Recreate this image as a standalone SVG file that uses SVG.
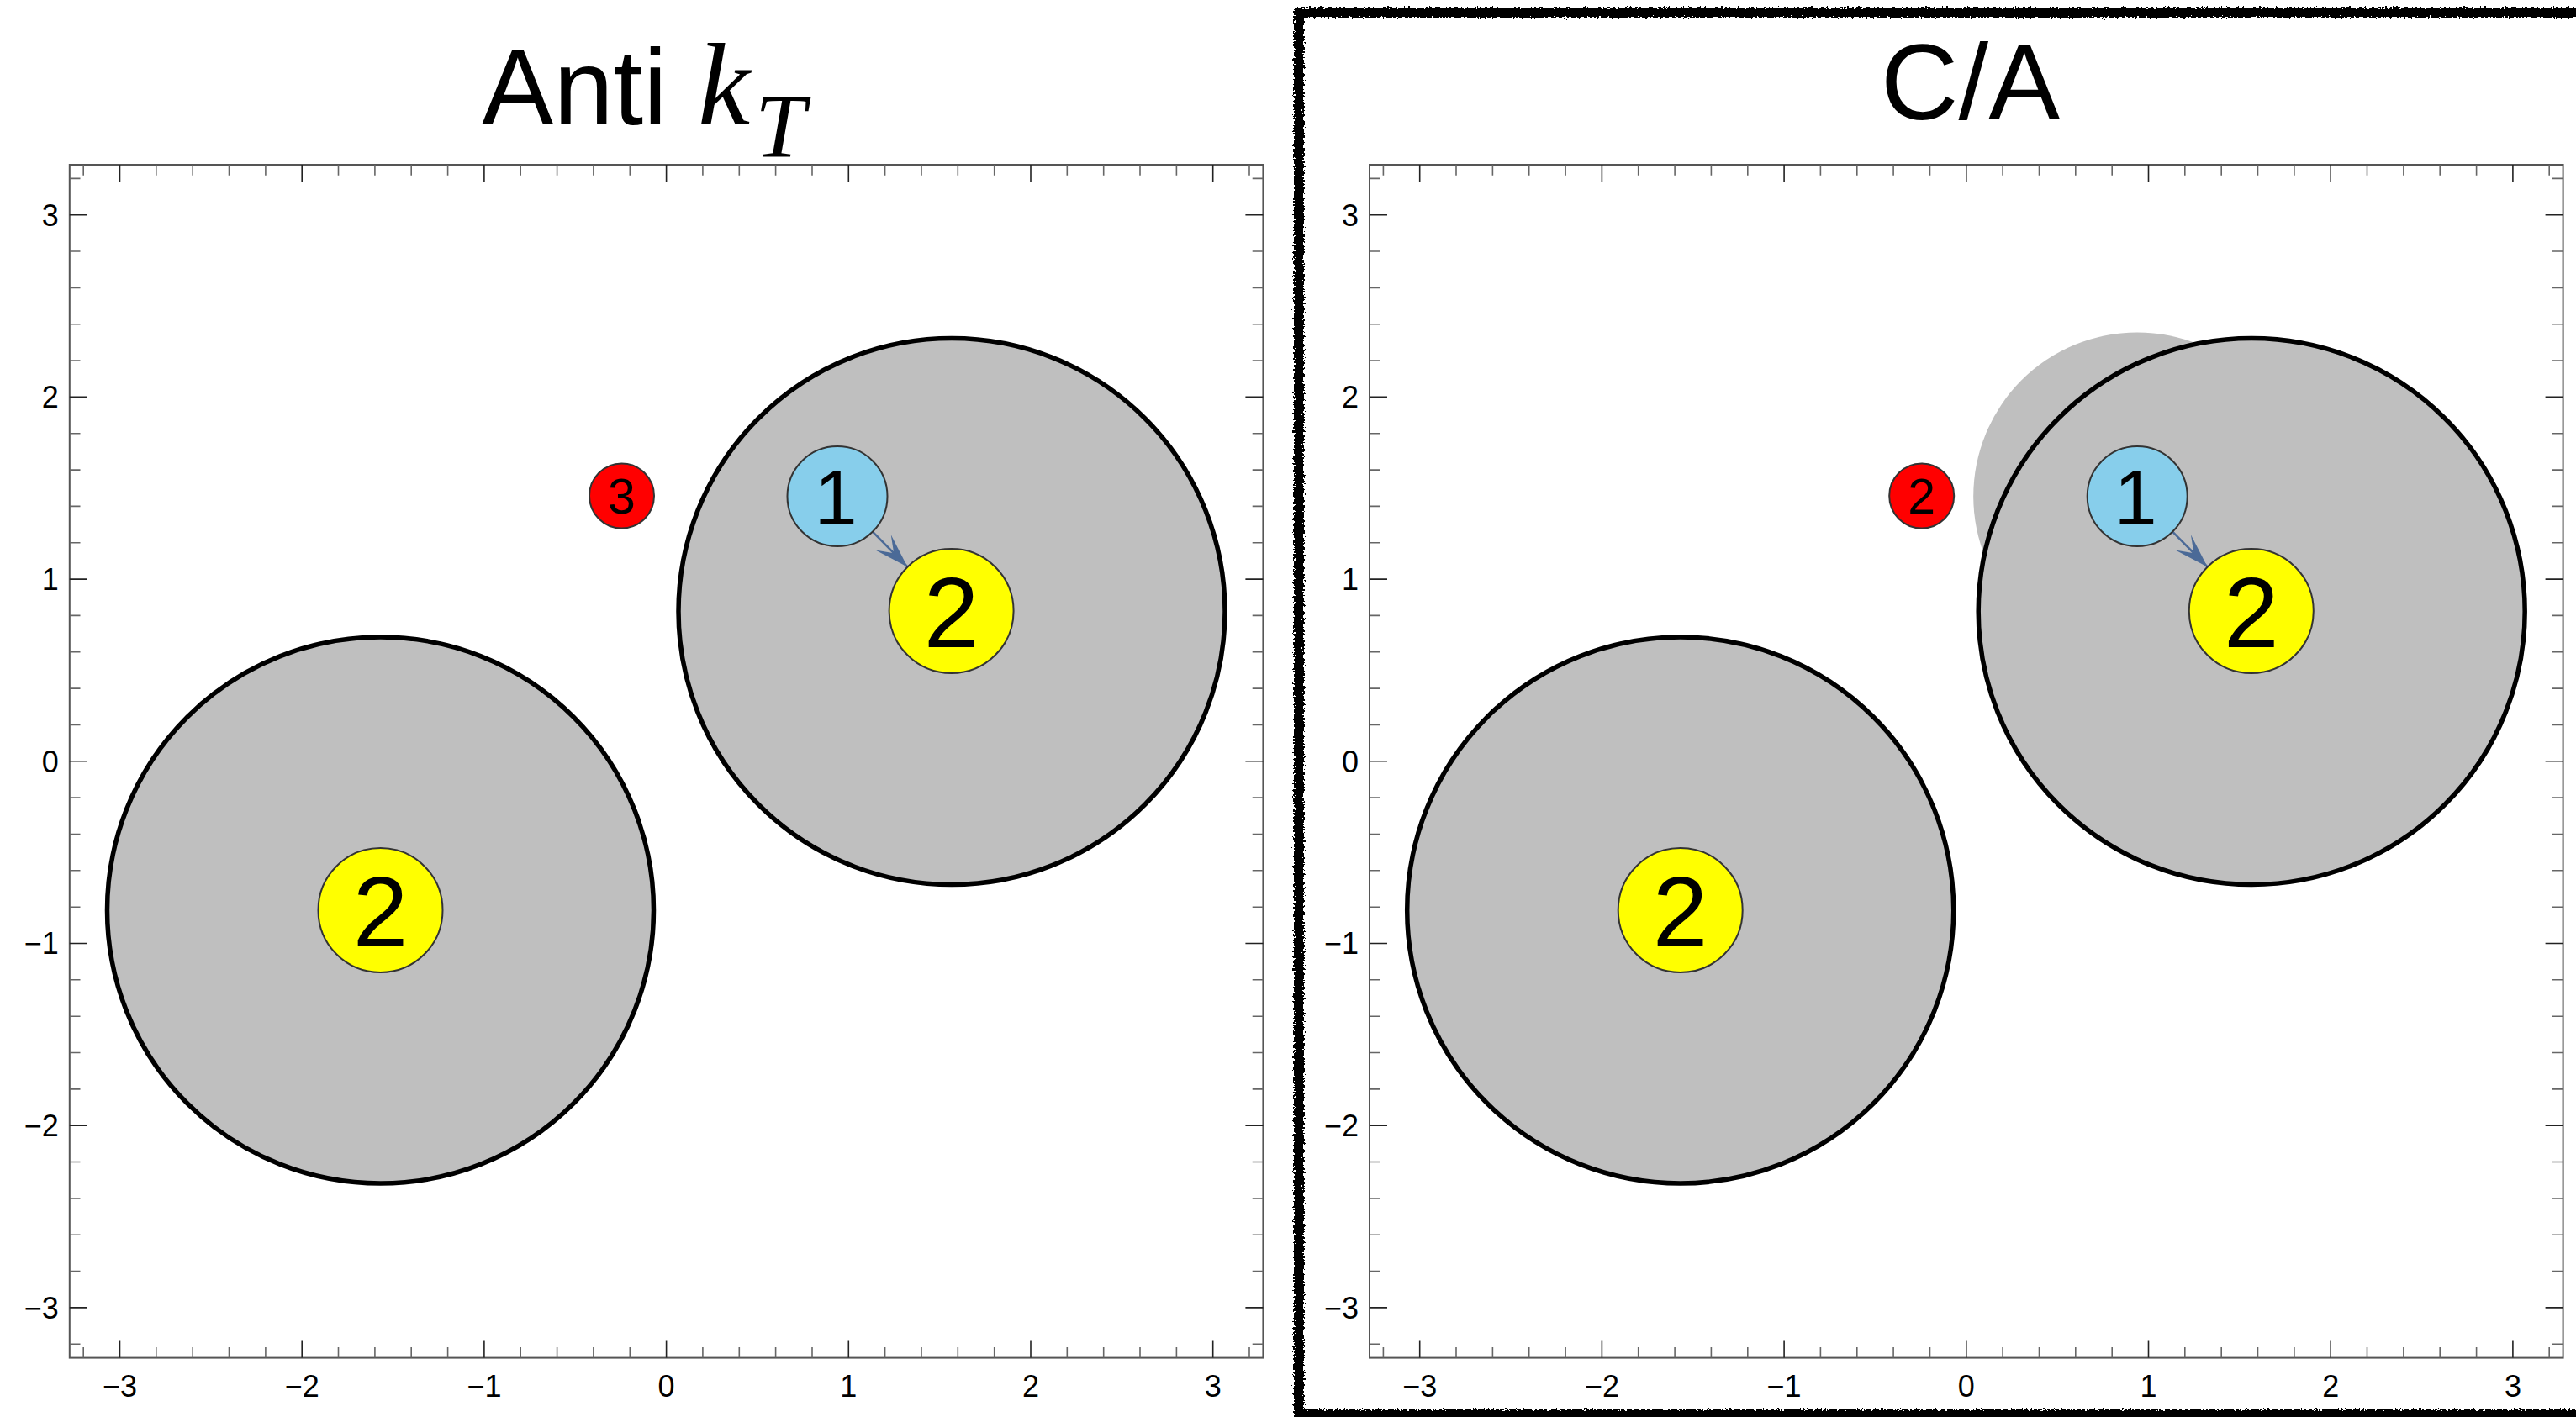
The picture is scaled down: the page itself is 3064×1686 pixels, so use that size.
<svg xmlns="http://www.w3.org/2000/svg" xmlns:xlink="http://www.w3.org/1999/xlink" width="3064" height="1686" viewBox="0 0 3064 1686">
<style>
.bg{fill:#ffffff}
.frame{fill:none;stroke:#555555;stroke-width:2}
.maj{fill:none;stroke:#222222;stroke-width:1.6}
.min{fill:none;stroke:#666666;stroke-width:1.6}
.tl{font-family:"Liberation Sans",Arial,sans-serif;font-size:36px;fill:#000}
.tlx{text-anchor:middle}
.tly{text-anchor:end}
.title{font-family:"Liberation Sans",Arial,sans-serif;font-size:128px;fill:#000}
.math{font-family:"Liberation Serif","Times New Roman",serif;font-style:italic}
.jet{fill:#bfbfbf;stroke:#000;stroke-width:5.5}
.blob{fill:#bfbfbf;stroke:none}
.node{stroke:#333333;stroke-width:2}
.blue{fill:#87ceeb}
.yellow{fill:#ffff00}
.red{fill:#ff0000}
.nl{font-family:"Liberation Sans",Arial,sans-serif;fill:#000;text-anchor:middle}
.edge{fill:none;stroke:#4b6a97;stroke-width:2.5}
.border{fill:none;stroke:#000;stroke-width:12;stroke-linejoin:miter}
</style>
<defs>
<marker id="arrow" markerUnits="userSpaceOnUse" viewBox="-45 -16 50 32" markerWidth="50" markerHeight="32" refX="0" refY="0" orient="auto">
<path d="M0,0 L-41,-13 L-23,0 L-41,13 Z" fill="#4b6a97"/>
</marker>
<filter id="rough" x="-2%" y="-2%" width="104%" height="104%">
<feTurbulence type="fractalNoise" baseFrequency="0.4" numOctaves="2" seed="7" result="n"/>
<feDisplacementMap in="SourceGraphic" in2="n" scale="8" xChannelSelector="R" yChannelSelector="G"/>
</filter>
<path id="minB" d="M-693.4 709.8v-12.7M-606.8 709.8v-12.7M-563.4 709.8v-12.7M-520.1 709.8v-12.7M-476.7 709.8v-12.7M-390.1 709.8v-12.7M-346.7 709.8v-12.7M-303.4 709.8v-12.7M-260 709.8v-12.7M-173.4 709.8v-12.7M-130 709.8v-12.7M-86.7 709.8v-12.7M-43.3 709.8v-12.7M693.4 709.8v-12.7M606.8 709.8v-12.7M563.4 709.8v-12.7M520.1 709.8v-12.7M476.7 709.8v-12.7M390.1 709.8v-12.7M346.7 709.8v-12.7M303.4 709.8v-12.7M260 709.8v-12.7M173.4 709.8v-12.7M130 709.8v-12.7M86.7 709.8v-12.7M43.3 709.8v-12.7"/>
<path id="majB" d="M-650.1 709.8v-21M-433.4 709.8v-21M-216.7 709.8v-21M0 709.8v-21M216.7 709.8v-21M433.4 709.8v-21M650.1 709.8v-21"/>
<g id="axes">
<rect class="frame" x="-709.8" y="-709.8" width="1419.6" height="1419.6"/>
<use xlink:href="#minB" class="min"/>
<use xlink:href="#minB" class="min" transform="rotate(90)"/>
<use xlink:href="#minB" class="min" transform="rotate(180)"/>
<use xlink:href="#minB" class="min" transform="rotate(270)"/>
<use xlink:href="#majB" class="maj"/>
<use xlink:href="#majB" class="maj" transform="rotate(90)"/>
<use xlink:href="#majB" class="maj" transform="rotate(180)"/>
<use xlink:href="#majB" class="maj" transform="rotate(270)"/>
<g class="tl tlx">
<text x="-650.1" y="756">−3</text>
<text x="-433.4" y="756">−2</text>
<text x="-216.7" y="756">−1</text>
<text x="0" y="756">0</text>
<text x="216.7" y="756">1</text>
<text x="433.4" y="756">2</text>
<text x="650.1" y="756">3</text>
</g>
<g class="tl tly">
<text x="-722.8" y="-637.2">3</text>
<text x="-722.8" y="-420.5">2</text>
<text x="-722.8" y="-203.8">1</text>
<text x="-722.8" y="12.9">0</text>
<text x="-722.8" y="229.6">−1</text>
<text x="-722.8" y="446.3">−2</text>
<text x="-722.8" y="663">−3</text>
</g>
</g>
</defs>
<rect class="bg" x="0" y="0" width="3064" height="1686"/>

<!-- Left panel: Anti kT -->
<g id="panel-antikt">
<text class="title" x="573" y="148">Anti<tspan class="math" x="830" font-size="140">k</tspan><tspan class="math" x="898" y="186" font-size="108">T</tspan></text>
<use xlink:href="#axes" transform="translate(792.6,905.8)"/>
<g id="akt-jet-upper"><circle class="jet" cx="1132" cy="727.5" r="325"/></g>
<g id="akt-jet-lower"><circle class="jet" cx="452.5" cy="1083" r="325"/></g>
<g id="akt-connectors">
<line class="edge" x1="1037.9" y1="632.7" x2="1079.4" y2="674.5" marker-end="url(#arrow)"/>
</g>
<g id="akt-node-1"><circle class="node blue" cx="996" cy="590.5" r="59.5"/><text class="nl" x="994" y="623.5" font-size="92">1</text></g>
<g id="akt-node-2a"><circle class="node yellow" cx="1131.6" cy="727" r="74"/><text class="nl" x="1131.6" y="769.5" font-size="118">2</text></g>
<g id="akt-node-2b"><circle class="node yellow" cx="452.5" cy="1083" r="74"/><text class="nl" x="452.5" y="1125.5" font-size="118">2</text></g>
<g id="akt-node-3"><circle class="node red" cx="739.5" cy="590" r="38.5"/><text class="nl" x="739.5" y="611" font-size="59">3</text></g>
</g>

<!-- Right panel: C/A -->
<g id="panel-ca">
<text class="title" x="2237" y="142">C/A</text>
<use xlink:href="#axes" transform="translate(2338.8,905.8)"/>
<g transform="translate(1546.2,0)">
<g id="ca-blob"><circle class="blob" cx="996" cy="590.5" r="195"/></g>
<g id="ca-jet-upper"><circle class="jet" cx="1132" cy="727.5" r="325"/></g>
<g id="ca-jet-lower"><circle class="jet" cx="452.5" cy="1083" r="325"/></g>
<g id="ca-connectors">
<line class="edge" x1="1037.9" y1="632.7" x2="1079.4" y2="674.5" marker-end="url(#arrow)"/>
</g>
<g id="ca-node-1"><circle class="node blue" cx="996" cy="590.5" r="59.5"/><text class="nl" x="994" y="623.5" font-size="92">1</text></g>
<g id="ca-node-2a"><circle class="node yellow" cx="1131.6" cy="727" r="74"/><text class="nl" x="1131.6" y="769.5" font-size="118">2</text></g>
<g id="ca-node-2b"><circle class="node yellow" cx="452.5" cy="1083" r="74"/><text class="nl" x="452.5" y="1125.5" font-size="118">2</text></g>
<g id="ca-node-red"><circle class="node red" cx="739.5" cy="590" r="38.5"/><text class="nl" x="739.5" y="611" font-size="59">2</text></g>
</g>
<path class="border" filter="url(#rough)" d="M3080,15 L1545,15 L1545,1683 L3080,1683"/>
</g>
</svg>
